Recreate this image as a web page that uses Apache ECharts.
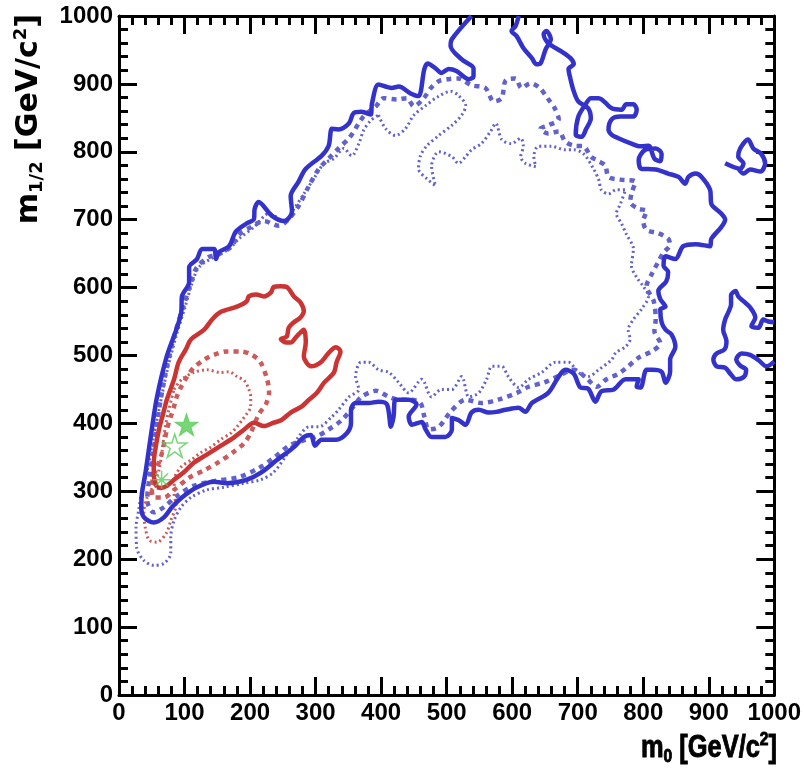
<!DOCTYPE html>
<html><head><meta charset="utf-8">
<script src="https://cdn.jsdelivr.net/npm/echarts@6/dist/echarts.min.js"></script>
<style>html,body{margin:0;padding:0;background:#fff}#c{width:804px;height:778px}</style>
</head><body><div id="c"></div>
<script>
// axis ticks
const xTickValues = [0,100,200,300,400,500,600,700,800,900,1000];
const yTickValues = [0,100,200,300,400,500,600,700,800,900,1000];

// contours: [m0, m1/2]
const blueSolidMain = [[538,1000],[508,966],[506,956],[523,936],[541,923],[541,911],[534,907],[515,919],[503,922],[492,916],[483,923],[471,930],[466,922],[457,882],[445,886],[427,896],[416,894],[396,899],[386,871],[384,855],[370,859],[358,857],[351,842],[335,833],[325,834],[320,809],[309,794],[285,775],[274,756],[262,735],[264,712],[252,698],[233,706],[213,726],[207,716],[206,701],[194,694],[178,682],[168,661],[152,652],[148,642],[145,657],[127,657],[119,642],[107,630],[107,608],[96,587],[95,564],[73,499],[58,439],[50,391],[41,331],[35,297],[34,277],[38,262],[53,254],[69,262],[81,277],[96,291],[119,306],[145,314],[165,312],[195,317],[216,327],[241,346],[267,365],[282,380],[293,383],[299,367],[309,376],[331,376],[348,386],[354,401],[354,420],[361,430],[381,430],[396,432],[409,428],[415,395],[419,410],[422,435],[442,435],[454,428],[442,410],[447,398],[462,402],[468,391],[477,380],[498,380],[508,391],[508,408],[518,405],[529,398],[538,416],[549,420],[564,416],[576,417],[590,420],[610,423],[620,417],[630,430],[655,445],[671,469],[681,479],[694,473],[704,453],[716,451],[727,432],[736,447],[755,450],[773,465],[793,465],[790,454],[796,453],[805,479],[814,479],[828,476],[834,460],[841,476],[841,494],[849,513],[843,531],[834,538],[828,549],[826,568],[834,572],[826,583],[823,595],[835,609],[838,623],[831,632],[834,646],[849,642],[861,661],[880,664],[902,661],[904,672],[919,689],[925,700],[919,709],[904,723],[902,744],[889,763],[880,768],[869,763],[864,753],[854,763],[838,768],[819,774],[797,775],[793,788],[803,803],[819,805],[828,797],[826,786],[817,790],[808,809],[796,808],[782,812],[762,820],[752,825],[747,833],[752,848],[765,852],[785,852],[790,862],[785,870],[774,870],[767,862],[752,864],[732,879],[720,879],[712,870],[701,852],[697,825],[706,822],[713,834],[720,849],[716,864],[701,874],[694,889],[689,907],[686,922],[694,929],[689,938],[675,948],[655,960],[648,973],[652,978],[659,966],[651,951],[643,930],[637,929],[630,938],[617,953],[607,970],[599,978],[605,985],[610,1000]];
const blueSolidIslandA = [[925,783],[948,775],[953,783],[945,793],[948,805],[960,818],[968,805],[980,797],[986,783],[979,771],[963,774],[953,768],[946,774]];
const blueSolidIslandB = [[1000,549],[991,550],[983,553],[976,541],[965,543],[971,556],[963,571],[953,580],[945,587],[941,595],[934,589],[934,575],[930,564],[925,553],[922,538],[927,521],[924,509],[912,503],[907,494],[912,484],[925,482],[933,473],[942,465],[954,469],[957,479],[948,485],[942,494],[950,503],[963,501],[976,493],[988,484],[1000,491]];
const blueDashed = [[361,834],[373,852],[392,867],[404,879],[424,877],[439,879],[450,867],[465,879],[476,894],[488,904],[503,907],[518,908],[538,898],[559,894],[572,874],[584,879],[590,905],[605,908],[614,894],[628,901],[642,894],[654,879],[665,864],[671,848],[655,839],[643,834],[655,827],[671,830],[681,815],[694,809],[709,808],[720,793],[732,786],[742,780],[747,763],[765,759],[788,756],[782,738],[780,726],[793,716],[805,713],[800,698],[805,685],[823,680],[838,672],[841,663],[831,652],[823,638],[813,620],[805,602],[816,580],[819,553],[817,536],[826,518],[813,506],[793,497],[777,484],[762,473],[744,465],[729,454],[713,467],[694,479],[671,470],[648,460],[625,454],[607,445],[579,435],[553,430],[529,435],[506,417],[488,395],[473,391],[466,410],[460,430],[445,435],[427,435],[412,439],[392,448],[370,439],[358,425],[340,405],[320,391],[300,380],[279,374],[259,367],[236,349],[213,334],[183,321],[145,315],[114,308],[88,293],[69,277],[53,269],[43,287],[46,317],[53,361],[61,420],[72,479],[85,531],[99,575],[110,608],[119,630],[137,645],[152,649],[171,660],[183,678],[201,689],[221,698],[244,691],[259,701],[274,720],[290,750],[305,775],[320,790],[335,805],[351,820],[361,834]];
const blueDotted = [[396,854],[407,834],[422,824],[437,834],[450,854],[468,868],[488,882],[506,889],[518,883],[529,868],[523,854],[508,839],[488,824],[470,809],[460,794],[457,775],[470,760],[483,750],[477,779],[488,800],[508,793],[518,783],[529,793],[538,803],[553,812],[567,830],[575,842],[584,818],[599,812],[613,820],[617,808],[613,793],[620,783],[636,778],[633,793],[640,808],[660,808],[681,803],[694,803],[709,797],[724,775],[732,759],[736,744],[747,738],[759,744],[773,744],[765,723],[759,709],[767,694],[774,679],[785,657],[782,632],[790,615],[800,602],[808,587],[797,568],[785,553],[777,538],[780,524],[773,513],[758,504],[752,494],[732,479],[716,469],[701,475],[686,490],[666,490],[645,475],[625,465],[610,453],[594,469],[584,484],[569,484],[561,465],[549,445],[534,439],[523,469],[508,450],[492,450],[477,439],[462,465],[442,445],[427,460],[412,475],[396,479],[381,490],[369,490],[361,469],[366,450],[351,439],[335,420],[325,410],[305,395],[290,395],[274,380],[256,354],[236,328],[216,317],[191,312],[160,306],[134,302],[110,291],[95,277],[84,257],[79,232],[79,209],[69,194],[53,191],[38,198],[27,217],[26,247],[30,272],[35,302],[43,331],[52,376],[61,420],[73,476],[87,528],[101,572],[111,605],[122,630],[145,645],[168,657],[183,672],[206,689],[229,709],[252,698],[267,716],[282,738],[297,760],[313,783],[328,790],[343,805],[355,794],[366,812],[373,831],[384,846],[396,854]];
const redSolid = [[58,306],[53,324],[53,342],[56,365],[61,391],[67,413],[73,435],[84,465],[91,490],[102,509],[110,524],[130,538],[142,553],[155,564],[180,572],[195,580],[198,587],[209,590],[221,587],[232,593],[236,601],[247,602],[256,601],[267,587],[277,578],[282,565],[277,556],[267,549],[259,541],[256,528],[247,524],[256,519],[262,519],[271,528],[282,538],[285,519],[282,499],[293,484],[308,490],[320,504],[331,512],[338,506],[332,490],[328,475],[313,460],[302,445],[290,435],[279,425],[262,416],[248,405],[236,401],[221,396],[206,401],[191,391],[175,379],[152,365],[134,354],[114,342],[99,328],[84,317],[73,308],[64,305],[58,306]];
const redDashed = [[56,331],[50,309],[53,291],[69,291],[84,302],[107,320],[130,331],[152,343],[175,358],[191,371],[201,386],[213,413],[224,428],[229,445],[226,465],[216,490],[203,501],[186,506],[165,506],[145,501],[130,494],[114,482],[104,469],[95,454],[88,439],[84,425],[79,410],[73,391],[69,371],[64,351],[56,331]];
const redDotted = [[84,450],[96,465],[114,475],[134,479],[155,475],[168,476],[180,469],[191,463],[197,453],[201,439],[201,425],[195,414],[188,405],[180,395],[171,386],[155,376],[140,365],[125,357],[110,346],[95,336],[85,320],[84,297],[87,280],[79,257],[72,238],[58,225],[46,228],[40,247],[38,269],[43,291],[53,309],[61,331],[66,361],[70,391],[76,420],[84,450]];

// best-fit points
const filledStar = [[103,398]];
const openStar = [[85,367]];
const asterisk = [[65,317]];

const BLUE = '#3333cc', BLUE2 = '#6262cc', RED = '#cc3333', RED2 = '#cc5c5c', GREEN = '#55cc55';
const STAR = 'path://M0,-10L2.245,-3.09L9.51,-3.09L3.633,1.18L5.88,8.09L0,3.82L-5.88,8.09L-3.633,1.18L-9.51,-3.09L-2.245,-3.09Z';
const AST = 'path://M0,-10L0,10M-10,0L10,0M-7,-7L7,7M-7,7L7,-7';

const armFont = "'Liberation Sans',Arial,sans-serif";

function line(data, color, width, type, z) {
  return {type:'line', data, symbol:'none', showSymbol:false, smooth:0.3, clip:true, silent:true, z:z||2,
    lineStyle:{color, width, type, cap:'butt', join:'round'}};
}
function axisCommon(pos, showLabel) {
  return {type:'value', min:0, max:1000, interval:100, position:pos,
    axisLine:{show:true, onZero:false, lineStyle:{color:'#000', width:3}},
    axisTick:{show:true, inside:true, length:18, lineStyle:{color:'#000', width:3}},
    minorTick:{show:true, splitNumber:5, length:9, lineStyle:{color:'#000', width:3}},
    splitLine:{show:false},
    axisLabel:{show:showLabel, color:'#000', fontWeight:'bold', fontSize:24, fontFamily:armFont, margin:6,
      formatter: v => String(v)}};
}
const tok = (size, lh, va) => ({fontSize:size, fontWeight:'bold', fontFamily:armFont, lineHeight:lh,
  verticalAlign:va, fill:'#000', stroke:'#000', lineWidth:0.9});

const chart = echarts.init(document.getElementById('c'), null, {renderer:'canvas'});
chart.setOption({
  animation:false,
  backgroundColor:'#fff',
  grid:{left:119, right:25, top:16, bottom:83, containLabel:false},
  xAxis:[axisCommon('bottom', true), axisCommon('top', false)],
  yAxis:[axisCommon('left', true), axisCommon('right', false)],
  series:[
    line(blueDotted, BLUE2, 3, [2,3], 2),
    line(blueDashed, BLUE2, 4.5, [5,5], 2),
    line(redDotted, RED2, 3, [2,3], 3),
    line(redDashed, RED2, 4.5, [5,5], 3),
    line(blueSolidMain, BLUE, 4.5, 'solid', 4),
    line(blueSolidIslandA, BLUE, 4.5, 'solid', 4),
    line(blueSolidIslandB, BLUE, 4.5, 'solid', 4),
    line(redSolid, RED, 4.5, 'solid', 5),
    {type:'scatter', data:filledStar, symbol:STAR, symbolSize:[23,22], z:6, silent:true,
      itemStyle:{color:GREEN, borderColor:GREEN, borderWidth:1}},
    {type:'scatter', data:openStar, symbol:STAR, symbolSize:[24,23], z:6, silent:true,
      itemStyle:{color:'rgba(255,255,255,0)', borderColor:GREEN, borderWidth:1.5}},
    {type:'scatter', data:asterisk, symbol:AST, symbolSize:[18,18], z:6, silent:true,
      itemStyle:{color:'rgba(0,0,0,0)', borderColor:GREEN, borderWidth:1.5}}
  ],
  graphic:[
    {type:'text', x:777, y:748, scaleX:0.82, z:10, style:{
      text:'{m|m}{s|0}{m| [GeV/c}{p|2}{m|]}', align:'right', verticalAlign:'middle',
      rich:{ m:tok(31,36,'middle'), s:tok(19,19,'bottom'), p:tok(19,19,'top') }}},
    {type:'text', x:29, y:14, rotation:Math.PI/2, z:10, style:{
      text:'{m|m}{s|1/2}{m| [GeV/c}{p|2}{m|]}', align:'right', verticalAlign:'middle',
      rich:{
        m:{fontSize:30, fontWeight:'bold', fontFamily:"'DejaVu Sans',sans-serif", lineHeight:34, fill:'#000'},
        s:{fontSize:18, fontWeight:'bold', fontFamily:"'DejaVu Sans',sans-serif", lineHeight:18, verticalAlign:'bottom', fill:'#000'},
        p:{fontSize:18, fontWeight:'bold', fontFamily:"'DejaVu Sans',sans-serif", lineHeight:18, verticalAlign:'top', fill:'#000'}
      }}}
  ]
});
</script>
</body></html>
